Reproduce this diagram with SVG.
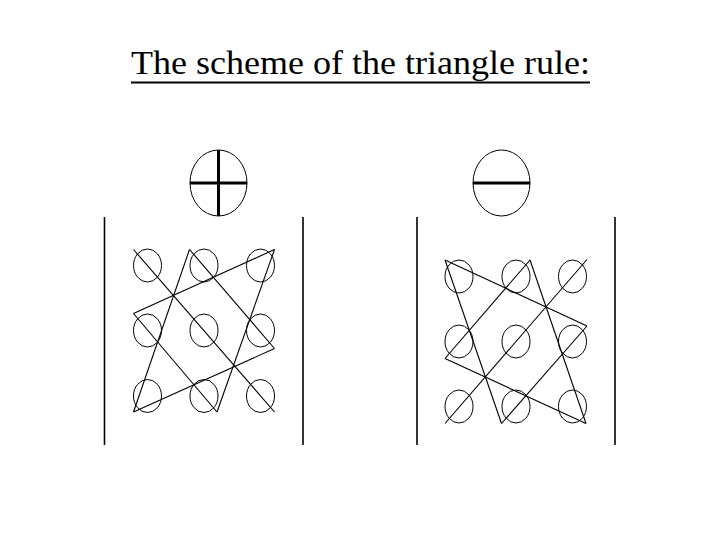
<svg xmlns="http://www.w3.org/2000/svg" width="720" height="540" viewBox="0 0 720 540">
<style>
.title{font-family:"Liberation Serif","Times New Roman",serif;font-size:33px;fill:#000}
.c{fill:none;stroke:#000;stroke-width:1}
.l{stroke:#000;stroke-width:1.1;fill:none}
.v{stroke:#000;stroke-width:1.6}
.th{stroke:#000;stroke-width:3}
</style>
<rect width="720" height="540" fill="#fff"/>
<g id="title">
<text class="title" x="131" y="74" textLength="459" lengthAdjust="spacingAndGlyphs">The scheme of the triangle rule:</text>
<line x1="131" y1="82.5" x2="590" y2="82.5" stroke="#000" stroke-width="2"/>
</g>
<g id="left-panel">
<g id="left-head">
<ellipse class="c" cx="218.5" cy="183" rx="28.5" ry="33"/>
<line class="th" x1="218.5" y1="150" x2="218.5" y2="216"/>
<line class="th" x1="190" y1="183" x2="247" y2="183"/>
</g>
<line class="v" x1="104.5" y1="217" x2="104.5" y2="445"/>
<line class="v" x1="303" y1="217" x2="303" y2="445"/>
<g id="left-circles">
<ellipse class="c" cx="147.5" cy="265.5" rx="14" ry="16.5"/>
<ellipse class="c" cx="204" cy="265.5" rx="14" ry="16.5"/>
<ellipse class="c" cx="260.5" cy="265.5" rx="14" ry="16.5"/>
<ellipse class="c" cx="147.5" cy="330.5" rx="14" ry="16.5"/>
<ellipse class="c" cx="204" cy="330.5" rx="14" ry="16.5"/>
<ellipse class="c" cx="260.5" cy="330.5" rx="14" ry="16.5"/>
<ellipse class="c" cx="147.5" cy="396" rx="14" ry="16.5"/>
<ellipse class="c" cx="204" cy="396" rx="14" ry="16.5"/>
<ellipse class="c" cx="260.5" cy="396" rx="14" ry="16.5"/>
</g>
<g id="left-lines">
<line class="l" x1="133.5" y1="249.5" x2="274.5" y2="412"/>
<line class="l" x1="189.5" y1="249.5" x2="274.5" y2="348.5"/>
<line class="l" x1="133.5" y1="313.5" x2="217" y2="412"/>
<line class="l" x1="189.5" y1="249.5" x2="133.5" y2="412"/>
<line class="l" x1="274.5" y1="249.5" x2="217" y2="412"/>
<line class="l" x1="133.5" y1="313.5" x2="274.5" y2="249.5"/>
<line class="l" x1="133.5" y1="412" x2="274.5" y2="348.5"/>
</g>
</g>
<g id="right-panel">
<g id="right-head">
<ellipse class="c" cx="501.5" cy="183" rx="28.5" ry="33"/>
<line class="th" x1="473" y1="183" x2="530" y2="183"/>
</g>
<line class="v" x1="417" y1="217" x2="417" y2="445"/>
<line class="v" x1="615" y1="217" x2="615" y2="445"/>
<g id="right-circles">
<ellipse class="c" cx="459" cy="276.5" rx="14" ry="16.5"/>
<ellipse class="c" cx="516" cy="276.5" rx="14" ry="16.5"/>
<ellipse class="c" cx="572.5" cy="276.5" rx="14" ry="16.5"/>
<ellipse class="c" cx="459" cy="341.5" rx="14" ry="16.5"/>
<ellipse class="c" cx="516" cy="341.5" rx="14" ry="16.5"/>
<ellipse class="c" cx="572.5" cy="341.5" rx="14" ry="16.5"/>
<ellipse class="c" cx="459" cy="406.5" rx="14" ry="16.5"/>
<ellipse class="c" cx="516" cy="406.5" rx="14" ry="16.5"/>
<ellipse class="c" cx="572.5" cy="406.5" rx="14" ry="16.5"/>
</g>
<g id="right-lines">
<line class="l" x1="445" y1="423.5" x2="587" y2="259.5"/>
<line class="l" x1="445" y1="358.5" x2="530" y2="260"/>
<line class="l" x1="501.5" y1="423.5" x2="587" y2="326"/>
<line class="l" x1="445" y1="260" x2="501.5" y2="423.5"/>
<line class="l" x1="530" y1="260" x2="586" y2="423.5"/>
<line class="l" x1="445" y1="260" x2="587" y2="326"/>
<line class="l" x1="445" y1="358.5" x2="586" y2="423.5"/>
</g>
</g>
</svg>
